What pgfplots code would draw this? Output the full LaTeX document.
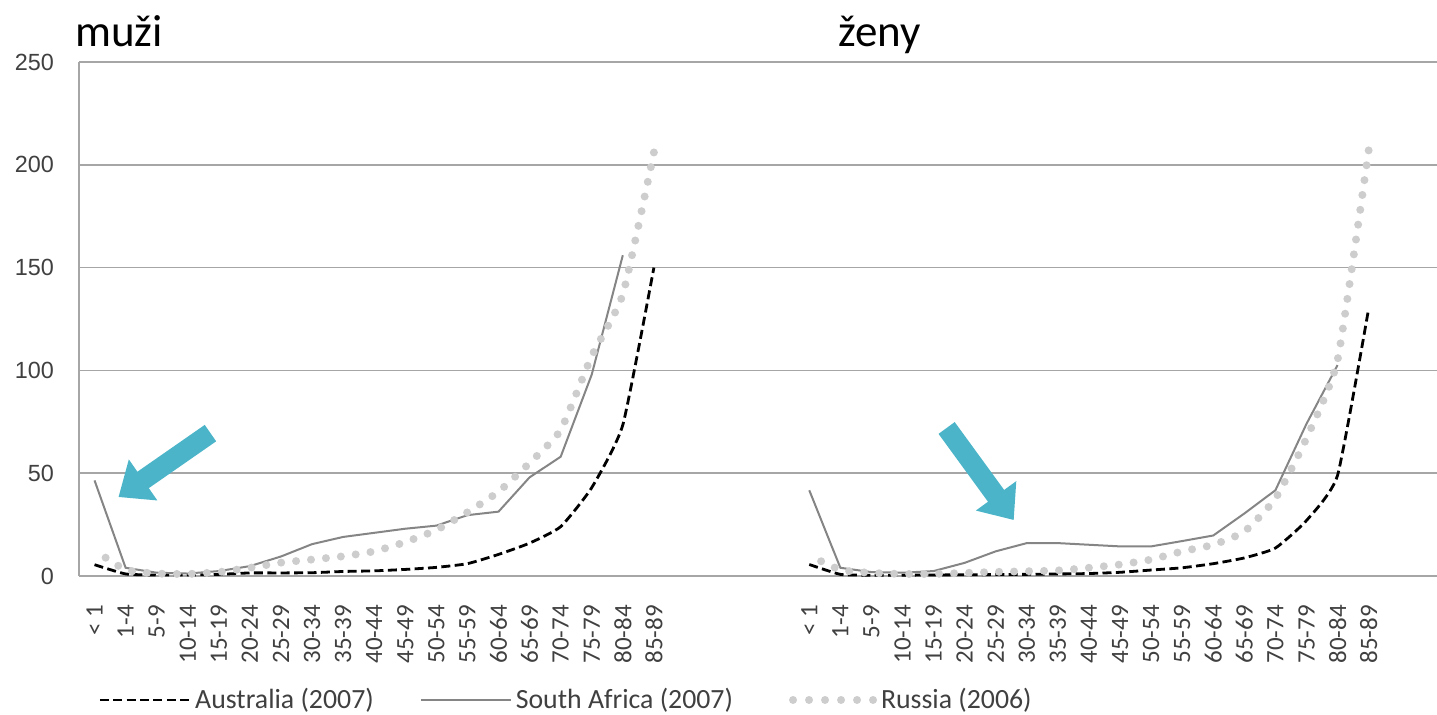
\documentclass[border=0pt]{standalone}
\usepackage{fontspec}
\setmainfont{Carlito}
\newfontfamily\arialfont{Liberation Sans}
\usepackage{pgfplots}
\pgfplotsset{compat=1.18}
\usetikzlibrary{arrows.meta}
\definecolor{gridc}{HTML}{A6A6A6}
\definecolor{sacol}{HTML}{858585}
\definecolor{rucol}{HTML}{CDCDCD}
\definecolor{arrowc}{HTML}{4BB4C8}
\definecolor{txt}{HTML}{404040}
\pgfplotsset{rulegend/.style={legend image code/.code={\draw[##1, dash pattern=on 0pt off 8pt] (0pt,0pt) -- (40pt,0pt);}}}
\begin{document}
\begin{tikzpicture}
\begin{axis}[
  at={(39.5pt,69pt)}, anchor=south west,
  scale only axis, width=679pt, height=257pt,
  xmin=-0.5, xmax=43.2, ymin=0, ymax=250,
  axis x line=bottom, axis y line=left,
  axis line style={draw=gridc, line width=0.8pt, -},
  ytick={0,50,100,150,200,250},
  yticklabels={0,50,100,150,200,250},
  ymajorgrids, major grid style={draw=gridc, line width=0.8pt},
  xtick={0,1,2,3,4,5,6,7,8,9,10,11,12,13,14,15,16,17,18,23,24,25,26,27,28,29,30,31,32,33,34,35,36,37,38,39,40,41},
  xticklabels={< 1,1-4,5-9,10-14,15-19,20-24,25-29,30-34,35-39,40-44,45-49,50-54,55-59,60-64,65-69,70-74,75-79,80-84,85-89,
               < 1,1-4,5-9,10-14,15-19,20-24,25-29,30-34,35-39,40-44,45-49,50-54,55-59,60-64,65-69,70-74,75-79,80-84,85-89},
  major tick length=0pt,
  yticklabel style={font=\arialfont\fontsize{11.7}{12}\selectfont, text=txt, xshift=-9pt},
  xticklabel style={font=\fontsize{12.5}{13}\selectfont, text=txt, yshift=-11pt, rotate=90, anchor=east},
  clip=false,
  legend columns=3,
  legend style={at={(0.0096,-0.2412)}, anchor=west, draw=none, fill=none,
    font=\fontsize{13.9}{15}\selectfont, text=txt,
    /tikz/column 2/.style={column sep=21pt},
    /tikz/column 4/.style={column sep=26pt}},
  legend image code/.code={\draw[#1] (0pt,0pt) -- (45pt,0pt);},
]
% men
\addplot[black, line width=1.4pt, dash pattern=on 4.5pt off 2.2pt, smooth, tension=0.3] coordinates {
(0,5.5)(1,1.0)(2,0.5)(3,0.5)(4,0.8)(5,1.5)(6,1.5)(7,1.6)(8,2.2)(9,2.5)(10,3.2)(11,4.2)(12,6)(13,10.5)(14,16)(15,24)(16,43)(17,73.5)(18,150)};
\addlegendentry{Australia (2007)}
\addplot[sacol, line width=1pt] coordinates {
(0,46.5)(1,4)(2,1.6)(3,1.2)(4,2.4)(5,4.8)(6,9.5)(7,15.5)(8,19)(9,21)(10,23)(11,24.5)(12,29.6)(13,31.3)(14,48)(15,58)(16,98)(17,156)};
\addlegendentry{South Africa (2007)}
\addplot[rucol, line width=4pt, line cap=round, dash pattern=on 0pt off 7.5pt, smooth, tension=0.3, rulegend] coordinates {
(18,206)(17,137)(16,107)(15,71)(14,55)(13,41)(12,31)(11,22.4)(10,16.5)(9,12)(8,9.6)(7,8)(6,6.5)(5,4)(4,1.9)(3,1)(2,1.2)(1,3)(0,12.5)};
\addlegendentry{Russia (2006)}
% women
\addplot[forget plot, black, line width=1.4pt, dash pattern=on 4.5pt off 2.2pt, smooth, tension=0.3] coordinates {
(23,5.6)(24,0.8)(25,0.4)(26,0.4)(27,0.5)(28,0.6)(29,0.7)(30,0.8)(31,1.0)(32,1.2)(33,1.8)(34,2.9)(35,4)(36,6)(37,8.8)(38,13.6)(39,27)(40,49)(41,130)};
\addplot[forget plot, sacol, line width=1pt] coordinates {
(23,41.7)(24,4)(25,1.9)(26,1.6)(27,2.4)(28,6.4)(29,12)(30,16)(31,16)(32,15.2)(33,14.4)(34,14.4)(35,17)(36,19.7)(37,30.4)(38,41.7)(39,74)(40,102.6)};
\addplot[forget plot, rucol, line width=4pt, line cap=round, dash pattern=on 0pt off 7.5pt, smooth, tension=0.3] coordinates {
(41,207)(40,105)(39,67)(38,37.7)(37,21.6)(36,15.2)(35,12)(34,8)(33,5.6)(32,4)(31,2.7)(30,2.3)(29,2)(28,1.5)(27,1)(26,1)(25,1.5)(24,3)(23,10)};
% arrows
\draw[draw=arrowc, line width=10pt, -{Triangle[width=24pt,length=15pt]}] (axis cs:3.73,69.5) -- (axis cs:0.77,38.4);
\draw[draw=arrowc, line width=10pt, -{Triangle[width=24pt,length=15pt]}] (axis cs:27.42,72) -- (axis cs:29.58,27.2);
\end{axis}
\node[anchor=base west, inner sep=0pt, font=\fontsize{22.5}{24}\selectfont] at (37.5pt,333.5pt) {muži};
\node[anchor=base west, inner sep=0pt, font=\fontsize{22.5}{24}\selectfont] at (419pt,333.5pt) {ženy};
\pgfresetboundingbox
\useasboundingbox (0,0) rectangle (718.5pt,357pt);
\end{tikzpicture}
\end{document}
